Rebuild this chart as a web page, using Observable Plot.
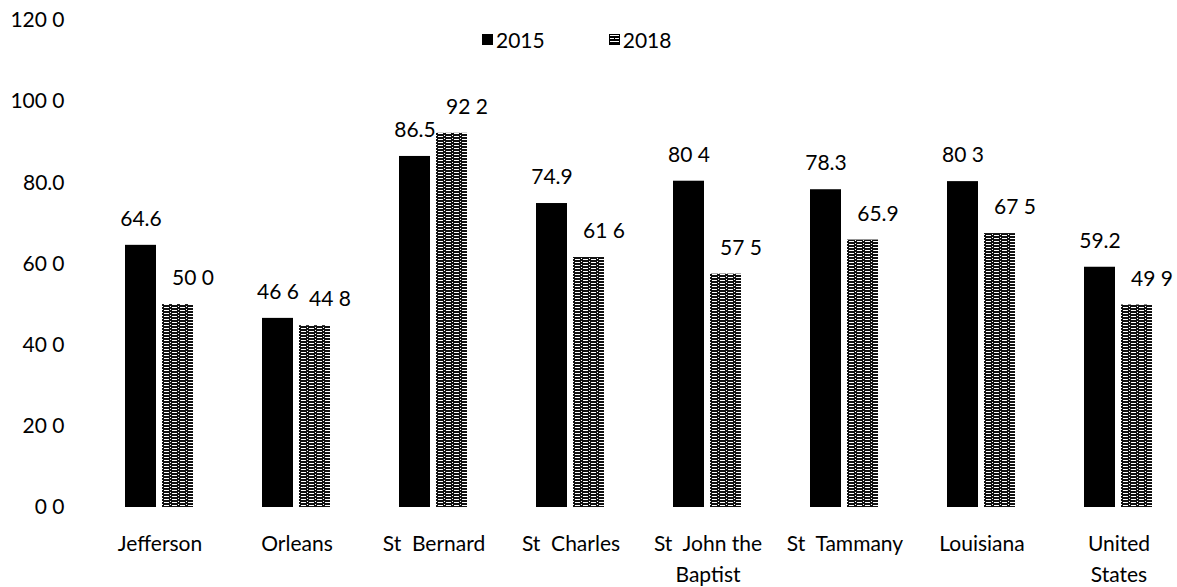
<!DOCTYPE html>
<html>
<head>
<meta charset="utf-8">
<script src="https://cdn.jsdelivr.net/npm/d3@7"></script>
<script src="https://cdn.jsdelivr.net/npm/@observablehq/plot@0.6"></script>
<style>
  html, body { margin: 0; padding: 0; background: #fff; }
  #wrap { position: relative; width: 1177px; height: 587px; font-family: Lato, "Open Sans", sans-serif; }
  #wrap svg text { white-space: pre; }
  #legend { position: absolute; top: 27px; left: 482px; font-size: 21px; color: #000; display: flex; align-items: center; }
  #legend .item { display: flex; align-items: center; }
  #legend .sw { width: 11px; height: 11px; margin-right: 3px; }
</style>
</head>
<body>
<div id="wrap">
  <div id="legend">
    <span class="item"><svg class="sw" width="11" height="11"><rect width="11" height="11" fill="#000"/></svg>2015</span>
    <span class="item" style="margin-left:64px"><svg class="sw" width="11" height="11"><rect width="11" height="11" fill="#000"/><rect x="1" y="1" width="9" height="1" fill="#fff"/><rect x="1" y="4" width="4" height="1" fill="#fff"/><rect x="6" y="4" width="4" height="1" fill="#fff"/><rect x="1" y="7" width="9" height="1" fill="#fff"/></svg>2018</span>
  </div>
</div>
<script>
const categories = ["Jefferson", "Orleans", "St  Bernard", "St  Charles", "St  John the\nBaptist", "St  Tammany", "Louisiana", "United\nStates"];
const years = ["2015", "2018"];
const values2015 = [64.6, 46.6, 86.5, 74.9, 80.4, 78.3, 80.3, 59.2];
const values2018 = [50.0, 44.8, 92.2, 61.6, 57.5, 65.9, 67.5, 49.9];
const labels2015 = ["64.6", "46 6", "86.5", "74.9", "80 4", "78.3", "80 3", "59.2"];
const labels2018 = ["50 0", "44 8", "92 2", "61 6", "57 5", "65.9", "67 5", "49 9"];
const yTicks = [0, 20, 40, 60, 80, 100, 120];
const yTickLabels = ["0 0", "20 0", "40 0", "60 0", "80.0", "100 0", "120 0"];

const rows = [];
categories.forEach((c, i) => {
  rows.push({cat: c, year: "2015", value: values2015[i], label: labels2015[i]});
  rows.push({cat: c, year: "2018", value: values2018[i], label: labels2018[i]});
});
const r15 = rows.filter(d => d.year === "2015");
const r18 = rows.filter(d => d.year === "2018");

const FS = 21;
const chart = Plot.plot({
  width: 1177,
  height: 587,
  marginTop: 20,
  marginBottom: 80,
  marginLeft: 89,
  marginRight: 0,
  style: {fontFamily: "Lato, 'Open Sans', sans-serif", fontSize: FS + "px", color: "#000", background: "#fff"},
  fx: {domain: categories, range: [89, 1189], paddingInner: 0.5, paddingOuter: 0.25, label: null},
  x: {domain: years, paddingInner: 0.16, paddingOuter: 0, axis: null},
  y: {domain: [0, 120], label: null},
  marks: [
    Plot.axisY({ticks: yTicks, tickFormat: d => yTickLabels[yTicks.indexOf(d)], tickSize: 0, tickPadding: 61, fontSize: FS, label: null}),
    Plot.axisFx({anchor: "bottom", tickSize: 0, tickPadding: 22, fontSize: FS, lineHeight: 1.45, label: null}),
    Plot.barY(r15, {fx: "cat", x: "year", y: "value", fill: "#000"}),
    Plot.barY(r18, {fx: "cat", x: "year", y: "value", fill: "url(#hatch)"}),
    Plot.text(r15, {fx: "cat", x: "year", y: "value", text: "label", dy: -26, fontSize: FS}),
    Plot.text(r18, {fx: "cat", x: "year", y: "value", text: "label", dy: -26, dx: 15, fontSize: FS})
  ]
});

const ns = "http://www.w3.org/2000/svg";
const defs = document.createElementNS(ns, "defs");
defs.innerHTML = `<pattern id="hatch" patternUnits="userSpaceOnUse" width="8" height="3">
  <rect width="8" height="3" fill="#111"/>
  <rect x="0" y="1" width="5" height="1" fill="#fff"/>
  <rect x="6" y="0" width="1" height="1" fill="#fff"/>
</pattern>`;
chart.insertBefore(defs, chart.firstChild);
document.getElementById("wrap").insertBefore(chart, document.getElementById("legend"));
chart.style.position = "absolute";
chart.style.left = "0";
chart.style.top = "0";
</script>
</body>
</html>
